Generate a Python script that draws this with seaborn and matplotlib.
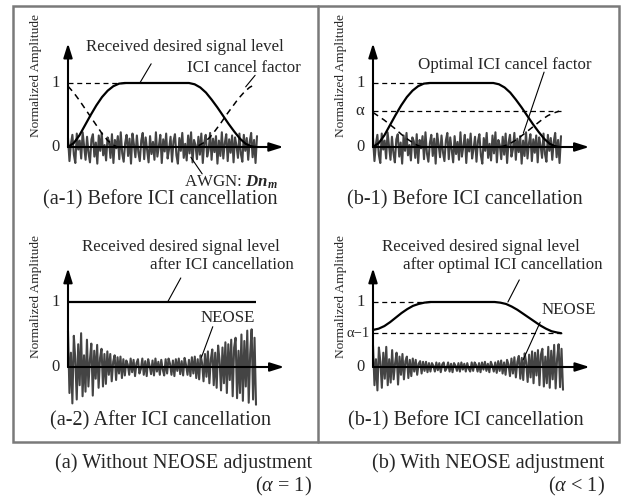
import numpy as np
import matplotlib
matplotlib.use("Agg")
import matplotlib.pyplot as plt
import seaborn as sns
from matplotlib.patches import Rectangle
from matplotlib.lines import Line2D

# ---------------------------------------------------------------
# DATA
# ---------------------------------------------------------------

# received desired signal level (before cancellation)
sig_x = [0.00, 0.03, 0.06, 0.09, 0.12, 0.15, 0.18, 0.21, 0.24, 0.27, 0.30,
         0.64, 0.67, 0.70, 0.73, 0.76, 0.79, 0.82, 0.85, 0.88, 0.91, 0.94, 0.97, 0.99]
sig_y = [0.00, 0.06, 0.18, 0.34, 0.50, 0.65, 0.78, 0.88, 0.95, 0.99, 1.00,
         1.00, 0.98, 0.93, 0.85, 0.74, 0.62, 0.49, 0.36, 0.24, 0.13, 0.05, 0.01, 0.00]

# received level after optimal ICI cancellation (panel b-2)
sig_opt_y = [0.57, 0.59, 0.63, 0.69, 0.76, 0.83, 0.89, 0.94, 0.97, 0.99, 1.00,
             1.00, 0.99, 0.97, 0.93, 0.88, 0.82, 0.76, 0.70, 0.64, 0.59, 0.55, 0.53, 0.52]

# ICI cancel factor (a-1) and optimal ICI cancel factor (b-1)
cf_x = [0.00, 0.03, 0.06, 0.09, 0.12, 0.15, 0.18, 0.21, 0.24, 0.26,
        0.66, 0.69, 0.72, 0.75, 0.78, 0.81, 0.84, 0.87, 0.90, 0.93, 0.96, 0.99]
cf_y = [0.95, 0.85, 0.73, 0.60, 0.47, 0.34, 0.21, 0.10, 0.03, 0.00,
        0.00, 0.02, 0.07, 0.15, 0.26, 0.38, 0.51, 0.63, 0.75, 0.85, 0.93, 0.98]
cf_opt_y = [0.54, 0.48, 0.42, 0.35, 0.28, 0.20, 0.13, 0.07, 0.02, 0.00,
            0.00, 0.01, 0.04, 0.09, 0.15, 0.22, 0.29, 0.36, 0.43, 0.49, 0.53, 0.56]

alpha_level = 0.56
alpha_inv_level = 0.52

# AWGN samples (top panels)
awgn = [0.14, -0.22, 0.05, 0.19, -0.12, -0.25, 0.21, -0.04, 0.10, -0.18,
        0.23, 0.02, -0.20, 0.16, -0.09, -0.24, 0.12, 0.20, -0.15, 0.07,
        -0.26, 0.18, -0.06, 0.22, -0.13, 0.03, -0.21, 0.15, 0.09, -0.17,
        0.20, -0.25, 0.11, -0.02, 0.17, -0.19, 0.23, -0.10, -0.23, 0.06,
        0.19, -0.14, 0.13, -0.26, 0.21, 0.04, -0.16, 0.18, -0.08, -0.22,
        0.10, 0.22, -0.19, 0.15, -0.05, -0.24, 0.17, -0.11, 0.08, -0.20,
        0.23, -0.15, 0.01, 0.19, -0.25, 0.12, -0.07, 0.21, -0.18, -0.03,
        0.16, -0.23, 0.09, 0.20, -0.13, -0.26, 0.14, -0.06, 0.22, -0.17,
        0.05, -0.21, 0.18, -0.10, 0.23, -0.24, 0.11, 0.03, -0.19, 0.16,
        -0.12, 0.21, -0.25, 0.07, 0.19, -0.15, -0.04, 0.22, -0.20, 0.13,
        -0.08, 0.17, -0.26, 0.10, -0.14, 0.23, -0.18, 0.06, 0.20, -0.22,
        0.12, -0.09, 0.18, -0.24, 0.15, 0.02, -0.17, 0.21, -0.11, -0.23,
        0.19, -0.06, 0.14, -0.20, 0.08, 0.22, -0.16, 0.11, -0.25, 0.17]

# NEOSE after ICI cancellation (a-2)
neose_a = [0.55, -0.40, 0.22, -0.56, 0.48, 0.12, -0.50, 0.35, -0.28, 0.52,
           -0.45, 0.18, -0.38, 0.42, -0.30, 0.10, 0.36, -0.44, 0.25, -0.18,
           0.34, -0.32, 0.14, 0.28, -0.30, 0.20, -0.26, 0.24, -0.12, 0.20,
           -0.22, 0.08, 0.18, -0.20, 0.15, -0.10, 0.16, -0.17, 0.12, -0.13,
           0.10, 0.04, -0.12, 0.13, -0.08, 0.11, -0.14, 0.06, 0.12, -0.10,
           -0.03, 0.13, -0.12, 0.09, -0.14, 0.12, 0.02, -0.11, 0.10, -0.13,
           0.13, -0.07, 0.08, -0.12, 0.11, -0.04, -0.13, 0.12, -0.10, 0.13,
           0.05, -0.12, 0.10, -0.14, 0.12, -0.06, 0.13, -0.11, 0.09, -0.13,
           0.14, 0.03, -0.12, 0.11, -0.14, 0.15, -0.10, 0.16, -0.17, 0.12,
           -0.19, 0.18, 0.06, -0.22, 0.20, -0.15, 0.24, -0.25, 0.12, 0.27,
           -0.28, 0.22, -0.32, 0.33, 0.10, -0.36, 0.30, -0.25, 0.38, -0.40,
           0.35, -0.20, 0.42, -0.45, 0.30, 0.45, -0.48, 0.25, -0.40, 0.50,
           -0.52, 0.40, -0.30, 0.56, -0.55, 0.20, 0.58, -0.50, 0.45, -0.58]

# NEOSE after optimal ICI cancellation (b-2)
neose_b = [0.33, -0.28, 0.12, -0.36, 0.30, 0.08, -0.32, 0.22, -0.18, 0.31,
           -0.28, 0.12, -0.24, 0.26, -0.19, 0.06, 0.22, -0.27, 0.16, -0.12,
           0.20, -0.19, 0.09, 0.16, -0.17, 0.11, -0.14, 0.13, -0.07, 0.11,
           -0.12, 0.05, 0.09, -0.10, 0.08, -0.06, 0.08, -0.08, 0.06, -0.07,
           0.06, 0.02, -0.07, 0.07, -0.05, 0.06, -0.08, 0.04, 0.07, -0.06,
           -0.02, 0.07, -0.07, 0.05, -0.08, 0.06, 0.02, -0.06, 0.06, -0.07,
           0.07, -0.04, 0.05, -0.07, 0.06, -0.03, -0.07, 0.07, -0.06, 0.07,
           0.03, -0.07, 0.06, -0.08, 0.07, -0.04, 0.08, -0.06, 0.05, -0.08,
           0.08, 0.02, -0.07, 0.07, -0.09, 0.09, -0.06, 0.10, -0.10, 0.07,
           -0.12, 0.11, 0.04, -0.14, 0.13, -0.10, 0.15, -0.16, 0.08, 0.17,
           -0.18, 0.14, -0.20, 0.21, 0.07, -0.23, 0.19, -0.16, 0.24, -0.25,
           0.22, -0.13, 0.26, -0.28, 0.19, 0.28, -0.30, 0.16, -0.25, 0.31,
           -0.32, 0.25, -0.19, 0.34, -0.33, 0.13, 0.35, -0.31, 0.28, -0.35]

# ---------------------------------------------------------------
# STYLE
# ---------------------------------------------------------------

sns.set_theme(style="white")
plt.rcParams["font.family"] = ["Liberation Serif", "DejaVu Serif"]
plt.rcParams["mathtext.fontset"] = "custom"
plt.rcParams["mathtext.rm"] = "Liberation Serif"
plt.rcParams["mathtext.it"] = "Liberation Serif:italic"
plt.rcParams["mathtext.bf"] = "Liberation Serif:bold"
plt.rcParams["mathtext.bfit"] = "Liberation Serif:italic:bold"

W, H = 622, 497
fig = plt.figure(figsize=(W / 100, H / 100), dpi=100)

NOISE_C = "#444444"
ANN = 12.2
CAP = 14.6


def panel(box, origin, unit):
    # box: left, top, right, bottom in pixels; origin: pixel of data (0, 0)
    L, T, R, B = box
    x0, y0 = origin
    sx, sy = unit
    ax = fig.add_axes([L / W, 1 - B / H, (R - L) / W, (B - T) / H])
    ax.set_xlim((L - x0) / sx, (R - x0) / sx)
    ax.set_ylim((y0 - B) / sy, (y0 - T) / sy)
    ax.axis("off")
    return ax


def arrows(ax, ytop, xend):
    ap = dict(arrowstyle="-|>,head_length=0.7,head_width=0.22", color="black",
              lw=1.5, shrinkA=0, shrinkB=0)
    ax.annotate("", xy=(0, ytop), xytext=(0, 0), arrowprops=ap, zorder=5)
    ax.annotate("", xy=(xend, 0), xytext=(0, 0), arrowprops=ap, zorder=5)


def leader(ax, p0, p1):
    ax.plot([p0[0], p1[0]], [p0[1], p1[1]], color="black", lw=0.8, zorder=6)


def ylabel(ax, ypos):
    ax.text(-0.17, ypos, "Normalized Amplitude", rotation=90, ha="center",
            va="center", fontsize=9.6)


def ticks(ax, items, size=12):
    for val, lab in items:
        ax.text(-0.045, val, lab, ha="right", va="center", fontsize=size)


def noise(ax, vals):
    xs = np.linspace(0, 1.0, len(vals))
    sns.lineplot(x=xs, y=vals, ax=ax, color=NOISE_C, linewidth=1.5, zorder=1)


# ---------------------------------------------------------------
# (a-1) BEFORE ICI CANCELLATION
# ---------------------------------------------------------------
ax = panel((14, 7, 317, 218), (68, 147), (189, 64))
noise(ax, awgn)
ax.hlines(1, 0, 0.30, colors="black", linestyles=(0, (4, 3)), lw=0.9)
sns.lineplot(x=sig_x, y=sig_y, ax=ax, color="black", linewidth=1.6, zorder=4)
sns.lineplot(x=cf_x, y=cf_y, ax=ax, color="black", linewidth=1.1,
             linestyle=(0, (4, 3)), zorder=4)
arrows(ax, 1.62, 1.14)
ticks(ax, [(1, "1"), (0, "0")])
ylabel(ax, 1.12)
ax.text(0.62, 1.56, "Received desired signal level", ha="center", va="center", fontsize=ANN)
leader(ax, (0.38, 1.0), (0.44, 1.30))
ax.text(0.93, 1.23, "ICI cancel factor", ha="center", va="center", fontsize=ANN)
leader(ax, (0.99, 1.12), (0.94, 0.94))
ax.text(0.86, -0.55, r"AWGN: $\mathbfit{Dn}_{\mathbfit{m}}$", ha="center", va="center", fontsize=ANN)
leader(ax, (0.65, -0.16), (0.71, -0.42))
ax.text(0.49, -0.83, "(a-1) Before ICI cancellation", ha="center", va="center", fontsize=CAP)

# ---------------------------------------------------------------
# (b-1) BEFORE ICI CANCELLATION, OPTIMAL FACTOR
# ---------------------------------------------------------------
ax = panel((319, 7, 618, 218), (373, 147), (188, 64))
noise(ax, awgn)
ax.hlines(1, 0, 0.30, colors="black", linestyles=(0, (4, 3)), lw=0.9)
ax.hlines(alpha_level, 0, 1.0, colors="black", linestyles=(0, (4, 3)), lw=0.9)
sns.lineplot(x=sig_x, y=sig_y, ax=ax, color="black", linewidth=1.6, zorder=4)
sns.lineplot(x=cf_x, y=cf_opt_y, ax=ax, color="black", linewidth=1.1,
             linestyle=(0, (4, 3)), zorder=4)
arrows(ax, 1.62, 1.15)
ticks(ax, [(1, "1"), (alpha_level, "α"), (0, "0")])
ylabel(ax, 1.12)
ax.text(0.70, 1.28, "Optimal ICI cancel factor", ha="center", va="center", fontsize=ANN)
leader(ax, (0.91, 1.17), (0.80, 0.22))
ax.text(0.49, -0.83, "(b-1) Before ICI cancellation", ha="center", va="center", fontsize=CAP)

# ---------------------------------------------------------------
# (a-2) AFTER ICI CANCELLATION
# ---------------------------------------------------------------
ax = panel((14, 218, 317, 441), (68, 367), (188, 65))
noise(ax, neose_a)
ax.hlines(1, 0, 1.0, colors="black", lw=1.6, zorder=4)
arrows(ax, 1.52, 1.15)
ticks(ax, [(1, "1"), (0, "0")])
ylabel(ax, 1.08)
ax.text(0.60, 1.85, "Received desired signal level", ha="center", va="center", fontsize=ANN)
ax.text(1.20, 1.57, "after ICI cancellation", ha="right", va="center", fontsize=ANN)
leader(ax, (0.60, 1.37), (0.53, 1.0))
ax.text(0.85, 0.75, "NEOSE", ha="center", va="center", fontsize=ANN)
leader(ax, (0.77, 0.62), (0.71, 0.15))
ax.text(0.49, -0.82, "(a-2) After ICI cancellation", ha="center", va="center", fontsize=CAP)

# ---------------------------------------------------------------
# (b-2) AFTER OPTIMAL ICI CANCELLATION
# ---------------------------------------------------------------
ax = panel((319, 218, 618, 441), (373, 367), (190, 65))
noise(ax, neose_b)
ax.hlines(1, 0, 0.30, colors="black", linestyles=(0, (4, 3)), lw=0.9)
ax.hlines(alpha_inv_level, 0, 1.0, colors="black", linestyles=(0, (4, 3)), lw=0.9)
sns.lineplot(x=sig_x, y=sig_opt_y, ax=ax, color="black", linewidth=1.6, zorder=4)
arrows(ax, 1.52, 1.14)
ticks(ax, [(1, "1"), (0, "0")])
ax.text(-0.015, alpha_inv_level, "α−1", ha="right", va="center", fontsize=10.5)
ylabel(ax, 1.08)
ax.text(0.57, 1.85, "Received desired signal level", ha="center", va="center", fontsize=ANN)
ax.text(1.21, 1.57, "after optimal ICI cancellation", ha="right", va="center", fontsize=ANN)
leader(ax, (0.77, 1.34), (0.71, 1.0))
ax.text(1.03, 0.88, "NEOSE", ha="center", va="center", fontsize=ANN)
leader(ax, (0.88, 0.69), (0.79, 0.11))
ax.text(0.49, -0.82, "(b-1) Before ICI cancellation", ha="center", va="center", fontsize=CAP)

# ---------------------------------------------------------------
# FRAME AND BOTTOM CAPTIONS
# ---------------------------------------------------------------
fig.add_artist(Rectangle((13 / W, 1 - 442 / H), 606 / W, 436 / H, transform=fig.transFigure,
                         fill=False, edgecolor="#7a7a7a", lw=1.8))
fig.add_artist(Line2D([318 / W, 318 / W], [1 - 442 / H, 1 - 6 / H], transform=fig.transFigure,
                      color="#7a7a7a", lw=1.8))

fig.text(312 / W, 1 - 463 / H, "(a) Without NEOSE adjustment", ha="right", va="center", fontsize=14.6)
fig.text(312 / W, 1 - 486 / H, "($\\alpha$ = 1)", ha="right", va="center", fontsize=14.6)
fig.text(605 / W, 1 - 463 / H, "(b) With NEOSE adjustment", ha="right", va="center", fontsize=14.6)
fig.text(605 / W, 1 - 486 / H, "($\\alpha$ < 1)", ha="right", va="center", fontsize=14.6)

fig.savefig("out.png", dpi=100, facecolor="white")
